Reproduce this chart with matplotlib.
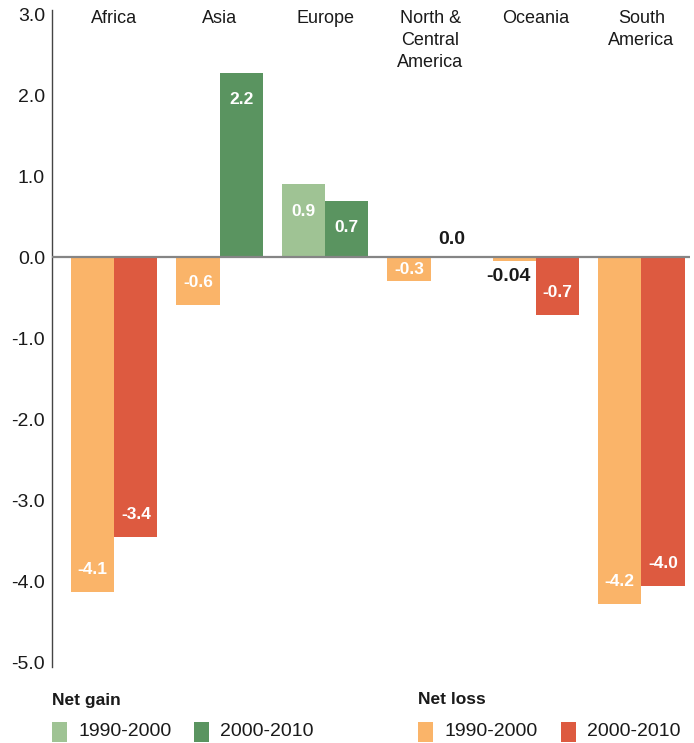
import numpy as np
import matplotlib
matplotlib.use('Agg')
import matplotlib.pyplot as plt
from matplotlib.patches import Rectangle

plt.rcParams['font.family'] = ['Liberation Sans', 'DejaVu Sans']

# Data: net change in forest area by region (million ha / year)
regions = ['Africa', 'Asia', 'Europe', 'North &\nCentral\nAmerica', 'Oceania', 'South\nAmerica']
change_1990_2000 = [-4.13, -0.59, 0.90, -0.29, -0.04, -4.28]
change_2000_2010 = [-3.46, 2.28, 0.70, 0.0, -0.71, -4.06]
label_1990_2000 = ['-4.1', '-0.6', '0.9', '-0.3', '-0.04', '-4.2']
label_2000_2010 = ['-3.4', '2.2', '0.7', '0.0', '-0.7', '-4.0']
yticks = [3.0, 2.0, 1.0, 0.0, -1.0, -2.0, -3.0, -4.0, -5.0]

GAIN_LIGHT = '#9fc394'
GAIN_DARK = '#5a9460'
LOSS_LIGHT = '#fab469'
LOSS_DARK = '#dd5a40'
TEXT = '#1a1a1a'

fig = plt.figure(figsize=(6.94, 7.43), dpi=100)
ax = fig.add_axes([0.075, 1 - 667 / 743, 0.919, 657 / 743])

x = np.arange(len(regions))
w = 0.41


def bar_colors(vals, gain, loss):
    return [gain if v > 0 else loss for v in vals]


ax.bar(x - w / 2, change_1990_2000, w, color=bar_colors(change_1990_2000, GAIN_LIGHT, LOSS_LIGHT), zorder=2)
ax.bar(x + w / 2, change_2000_2010, w, color=bar_colors(change_2000_2010, GAIN_DARK, LOSS_DARK), zorder=2)

# value labels
for xs, vals, labels in [(x - w / 2, change_1990_2000, label_1990_2000),
                         (x + w / 2, change_2000_2010, label_2000_2010)]:
    for xi, v, lab in zip(xs, vals, labels):
        if abs(v) < 0.1:
            # too small for the bar: dark label outside
            if v == 0:
                ax.text(xi, 0.22, lab, ha='center', va='center', color=TEXT,
                        fontsize=14, fontweight='bold', zorder=4)
            else:
                ax.text(xi - 0.06, -0.24, lab, ha='center', va='center', color=TEXT,
                        fontsize=14, fontweight='bold', zorder=4)
        elif abs(v) < 0.5:
            ax.text(xi, v / 2, lab, ha='center', va='center', color='white',
                    fontsize=12.5, fontweight='bold', zorder=4)
        else:
            off = 0.33 if v > 0 else 0.28
            ax.text(xi, v - np.sign(v) * off, lab, ha='center', va='center', color='white',
                    fontsize=12.5, fontweight='bold', zorder=4)

# zero line
ax.axhline(0, color='#858585', lw=1.6, zorder=3)

# region names at the top
for xi, name in zip(x, regions):
    ax.text(xi, 3.05, name, ha='center', va='top', fontsize=13, linespacing=1.38, color=TEXT)

ax.set_xlim(-0.59, 5.46)
ax.set_ylim(-5.06, 3.055)
ax.set_yticks(yticks)
ax.set_yticklabels([f'{t:.1f}' for t in yticks], fontsize=14, color=TEXT)
ax.tick_params(axis='y', length=0, pad=5)
ax.set_xticks([])
for s in ['top', 'right', 'bottom']:
    ax.spines[s].set_visible(False)
ax.spines['left'].set_color('#444444')
ax.spines['left'].set_linewidth(1.0)

# legend drawn by hand
W, H = 694.0, 743.0


def fig_xy(px, py):
    return px / W, 1 - py / H


fig.text(*fig_xy(52, 700), 'Net gain', fontsize=12.5, fontweight='bold', va='center', ha='left', color=TEXT)
fig.text(*fig_xy(418, 700), 'Net loss', fontsize=12.5, fontweight='bold', va='center', ha='left', color=TEXT)
legend_items = [(52, GAIN_LIGHT, '1990-2000'), (194, GAIN_DARK, '2000-2010'),
                (418, LOSS_LIGHT, '1990-2000'), (561, LOSS_DARK, '2000-2010')]
for px, col, lab in legend_items:
    x0, y0 = fig_xy(px, 742)
    fig.patches.append(Rectangle((x0, y0), 15 / W, 20 / H, transform=fig.transFigure,
                                 facecolor=col, edgecolor='none'))
    fig.text(*fig_xy(px + 26, 732), lab, fontsize=14, va='center', ha='left', color=TEXT)

fig.savefig('out.png', dpi=100)
